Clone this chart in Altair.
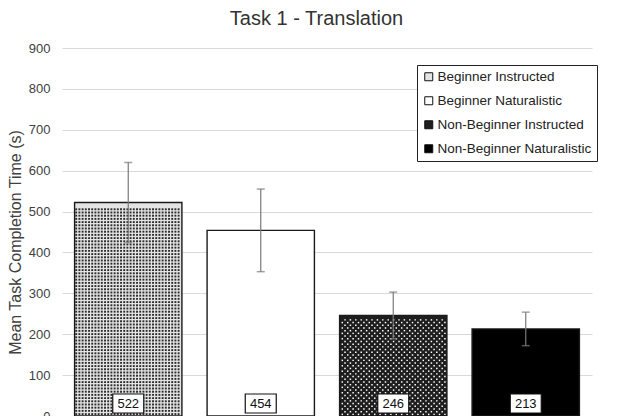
import altair as alt
import pandas as pd

groups = ["Beginner Instructed", "Beginner Naturalistic",
          "Non-Beginner Instructed", "Non-Beginner Naturalistic"]
means = [522, 454, 246, 213]
errors = [98, 101, 57, 41]
fills = ["#e4e4e4", "#ffffff", "#1e1e1e", "#000000"]
y_ticks = [0, 100, 200, 300, 400, 500, 600, 700, 800, 900]

df = pd.DataFrame({"group": groups, "mean": means, "err": errors})

FONT = "Liberation Sans"
PLOT_H = 368
BAND = 107.3

xscale = alt.Scale(domain=groups, range=[0, 530], paddingInner=0.19, paddingOuter=0.095)
x = alt.X("group:N", scale=xscale, axis=None, sort=groups)
yscale = alt.Scale(domain=[0, 900], nice=False)

base = alt.Chart(df)

bars = base.mark_bar(stroke="#1a1a1a", strokeWidth=1.4).encode(
    x=x,
    y=alt.Y("mean:Q", scale=yscale,
            axis=alt.Axis(values=y_ticks, title="Mean Task Completion Time (s)",
                          domain=False, ticks=False, grid=True, gridColor="#d9d9d9",
                          gridWidth=1, labelFont=FONT, labelFontSize=13,
                          labelColor="#404040", labelPadding=12,
                          titleFont=FONT, titleFontSize=16, titleFontWeight="normal",
                          titleColor="#404040", titlePadding=5, titleY=194)),
    fill=alt.Fill("group:N", scale=alt.Scale(domain=groups, range=fills),
                  legend=alt.Legend(title=None, orient="none", legendX=355, legendY=17,
                                    direction="vertical", symbolType="square",
                                    symbolSize=64, symbolStrokeColor="#111",
                                    symbolStrokeWidth=1, labelFont=FONT,
                                    labelFontSize=13.5, labelColor="#222",
                                    labelOffset=2, rowPadding=9, padding=5,
                                    strokeColor="#222", fillColor="white")),
)


def texture(group, pitch_x, pitch_y, stagger, color, size, ncols):
    """Dot-pattern fill drawn inside one bar (pattern fill emulation)."""
    row_expr = ("sequence(0, floor(datum.mean * " + str(PLOT_H) + " / 900 / "
                + str(pitch_y) + ") - 1)")
    yv_expr = "(datum.rows + 0.6) * " + str(pitch_y) + " * 900 / " + str(PLOT_H)
    dx_expr = ("(datum.cols + 0.5 + (datum.rows % 2) * " + str(stagger) + ") * "
               + str(pitch_x))
    return base.transform_filter(
        alt.datum.group == group
    ).transform_calculate(
        cols="sequence(0, " + str(ncols) + ")"
    ).transform_flatten(["cols"]).transform_calculate(
        rows=row_expr
    ).transform_flatten(["rows"]).transform_calculate(
        dx=dx_expr, yv=yv_expr,
    ).transform_filter("datum.dx < " + str(BAND - 1.5)).mark_square(
        size=size, color=color, opacity=1,
        xOffset={"expr": "datum.dx - " + str(BAND / 2)},
    ).encode(
        x=x,
        y=alt.Y("yv:Q", scale=yscale),
    )


dots1 = texture(groups[0], 3.2, 3.2, 0, "#2a2a2a", 3.6, 34)
dots3 = texture(groups[2], 5.4, 2.7, 0.5, "white", 2.2, 20)

err = base.transform_calculate(
    lo="datum.mean - datum.err", hi="datum.mean + datum.err"
)
err_rule = err.mark_rule(color="#7a7a7a", strokeWidth=1.2).encode(
    x=x, y="lo:Q", y2="hi:Q")
cap_hi = err.mark_tick(color="#7a7a7a", thickness=1.5, size=8, orient="horizontal").encode(
    x=x, y="hi:Q")
cap_lo = err.mark_tick(color="#7a7a7a", thickness=1.5, size=8, orient="horizontal").encode(
    x=x, y="lo:Q")

label_box = base.mark_bar(width=31, fill="white", stroke="#111", strokeWidth=1.2).encode(
    x=x, y=alt.value(346), y2=alt.value(365))
label_text = base.mark_text(font=FONT, fontSize=13, color="#111", baseline="middle").encode(
    x=x, y=alt.value(356), text=alt.Text("mean:Q"))

chart = alt.layer(bars, dots1, dots3, err_rule, cap_hi, cap_lo,
                  label_box, label_text).properties(
    width=551, height=PLOT_H,
    title=alt.TitleParams("Task 1 - Translation", font=FONT, fontSize=20,
                          fontWeight="normal", color="#333", anchor="middle",
                          dx=-21, offset=13),
    autosize=alt.AutoSizeParams(type="none"),
    padding={"left": 54, "top": 40, "right": 0, "bottom": 0},
).configure_view(stroke=None)

chart.save("out.html", embed_options={"renderer": "svg", "actions": False})
